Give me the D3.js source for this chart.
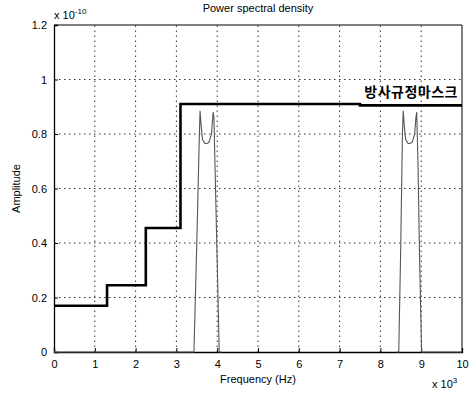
<!DOCTYPE html>
<html>
<head>
<meta charset="utf-8">
<script src="https://cdn.jsdelivr.net/npm/d3@7"></script>
<style>
  html, body { margin: 0; padding: 0; background: #fff; }
  svg { display: block; font-family: "Liberation Sans", Arial, sans-serif; }
</style>
</head>
<body>
<div id="chart"></div>
<script>
// Power spectral density with an emission mask (step line) and two PSD lobes.
// Frequency in units of 10^3 Hz, amplitude in units of 10^-10.

const xTicks = [0, 1, 2, 3, 4, 5, 6, 7, 8, 9, 10];
const yTicks = [0, 0.2, 0.4, 0.6, 0.8, 1, 1.2];

// mask: step line (x, level)
const maskFreq  = [0,    1.3,  1.3,  2.25, 2.25, 3.1,  3.1,  7.5,  7.5,  10];
const maskLevel = [0.17, 0.17, 0.245, 0.245, 0.455, 0.455, 0.91, 0.91, 0.905, 0.905];

// PSD lobes
const lobe1Freq = [0, 3.43, 3.50, 3.56, 3.58, 3.60, 3.64, 3.70, 3.75, 3.80, 3.86, 3.90, 3.92, 3.95, 4.00, 4.05, 4.10];
const lobe1Amp  = [0, 0,    0.40, 0.78, 0.885, 0.84, 0.78, 0.765, 0.765, 0.77, 0.80, 0.88, 0.86, 0.66, 0.33, 0, 0];
const lobe2Freq = [8.40, 8.45, 8.50, 8.54, 8.56, 8.58, 8.62, 8.68, 8.72, 8.78, 8.84, 8.87, 8.89, 8.92, 8.96, 9.01, 10];
const lobe2Amp  = [0,    0,    0.40, 0.80, 0.885, 0.84, 0.78, 0.765, 0.765, 0.77, 0.80, 0.86, 0.88, 0.70, 0.35, 0, 0];

const width = 473, height = 393;
const margin = { left: 54, right: 11, top: 25, bottom: 41 };

const svg = d3.select("#chart").append("svg")
  .attr("width", width).attr("height", height);

const x = d3.scaleLinear().domain([0, 10]).range([margin.left, width - margin.right]);
const y = d3.scaleLinear().domain([0, 1.2]).range([height - margin.bottom, margin.top]);

// dotted grid
svg.append("g").selectAll("line").data(xTicks.slice(1, -1)).join("line")
  .attr("x1", d => x(d)).attr("x2", d => x(d))
  .attr("y1", y(0)).attr("y2", y(1.2))
  .attr("stroke", "#333").attr("stroke-width", 1).attr("stroke-dasharray", "1.5,3.5");
svg.append("g").selectAll("line").data(yTicks.slice(1, -1)).join("line")
  .attr("x1", x(0)).attr("x2", x(10))
  .attr("y1", d => y(d)).attr("y2", d => y(d))
  .attr("stroke", "#333").attr("stroke-width", 1).attr("stroke-dasharray", "1.5,3.5");

// axes (ticks pointing inward, MATLAB style)
const xAxis = svg.append("g").attr("transform", `translate(0,${y(0)})`)
  .call(d3.axisBottom(x).tickValues(xTicks).tickSize(-4).tickPadding(8).tickFormat(d3.format("d")));
const yAxis = svg.append("g").attr("transform", `translate(${x(0)},0)`)
  .call(d3.axisLeft(y).tickValues(yTicks).tickSize(-4).tickPadding(7).tickFormat(d => d === 0 ? "0" : d === 1 ? "1" : d3.format(".1f")(d)));
[xAxis, yAxis].forEach(g => {
  g.select(".domain").attr("stroke", "#000").attr("stroke-width", 1.3);
  g.selectAll(".tick line").attr("stroke", "#000");
  g.selectAll(".tick text").attr("font-size", 11).attr("fill", "#000");
});

// top / right box edges
svg.append("line").attr("x1", x(0)).attr("x2", x(10)).attr("y1", y(1.2)).attr("y2", y(1.2))
  .attr("stroke", "#000").attr("stroke-width", 1);
svg.append("line").attr("x1", x(10)).attr("x2", x(10)).attr("y1", y(0)).attr("y2", y(1.2))
  .attr("stroke", "#000").attr("stroke-width", 1);

const line = d3.line().x(d => x(d[0])).y(d => y(d[1]));

// PSD lobes
[[lobe1Freq, lobe1Amp], [lobe2Freq, lobe2Amp]].forEach(([f, a]) => {
  svg.append("path").datum(f.map((v, i) => [v, a[i]]))
    .attr("d", line).attr("fill", "none")
    .attr("stroke", "#555").attr("stroke-width", 1.1);
});

// emission mask
svg.append("path").datum(maskFreq.map((v, i) => [v, maskLevel[i]]))
  .attr("d", line).attr("fill", "none")
  .attr("stroke", "#000").attr("stroke-width", 2.6);

svg.append("text").attr("x", 458).attr("y", 97).attr("text-anchor", "end")
  .attr("font-family", "'Noto Sans CJK KR', sans-serif").attr("font-weight", "bold")
  .attr("font-size", 14).attr("letter-spacing", 0.5).text("방사규정마스크");

// title and labels
svg.append("text").attr("x", 258).attr("y", 12).attr("text-anchor", "middle")
  .attr("font-size", 11).text("Power spectral density");
svg.append("text").attr("x", 258).attr("y", 383).attr("text-anchor", "middle")
  .attr("font-size", 11).text("Frequency (Hz)");
svg.append("text").attr("transform", `translate(20,${y(0.6)}) rotate(-90)`)
  .attr("text-anchor", "middle").attr("font-size", 11).text("Amplitude");

// exponent labels
const ex1 = svg.append("text").attr("x", 54).attr("y", 19).attr("font-size", 11);
ex1.append("tspan").text("x 10");
ex1.append("tspan").attr("dy", -5).attr("font-size", 8).text("-10");
const ex2 = svg.append("text").attr("x", 432).attr("y", 388).attr("font-size", 11);
ex2.append("tspan").text("x 10");
ex2.append("tspan").attr("dy", -5).attr("font-size", 8).text("3");
</script>
</body>
</html>
